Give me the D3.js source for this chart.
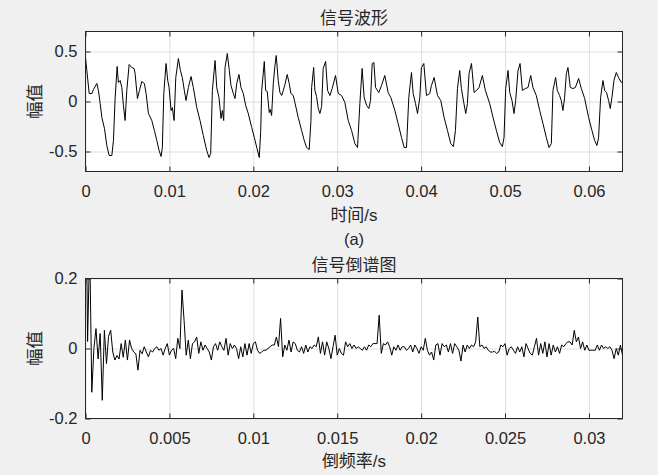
<!DOCTYPE html>
<html>
<head>
<meta charset="utf-8">
<script src="https://cdn.jsdelivr.net/npm/d3@7"></script>
<style>
  html, body { margin: 0; padding: 0; background: #f0f0f0; }
  svg { display: block; }
  text { fill: #262626; font-family: "Liberation Sans", Arial, "Noto Sans CJK SC", sans-serif; }
</style>
</head>
<body>
<svg id="chart" width="658" height="475"></svg>
<script>
// ---------------- Data ----------------
// (a) signal waveform: time (s) and amplitude
const waveTime = [
  0, 0.00016, 0.00044, 0.00076, 0.00095, 0.00135, 0.00154, 0.00175, 0.00195, 0.00226,
  0.00254, 0.00282, 0.00314, 0.00333, 0.00353, 0.00377, 0.00392, 0.00413, 0.00433, 0.00452,
  0.00472, 0.00492, 0.0052, 0.00552, 0.00579, 0.00591, 0.00619, 0.00643, 0.00671, 0.00702,
  0.00722, 0.0075, 0.0079, 0.00821, 0.0085, 0.00877, 0.00901, 0.00916, 0.00933, 0.0096,
  0.0098, 0.00996, 0.0102, 0.01035, 0.01056, 0.01076, 0.01107, 0.01131, 0.01154, 0.01178,
  0.01198, 0.01226, 0.01258, 0.01285, 0.01326, 0.01365, 0.01404, 0.01445, 0.01472, 0.01492,
  0.01512, 0.01544, 0.01564, 0.01591, 0.01615, 0.01631, 0.01647, 0.01663, 0.0169, 0.01714,
  0.01734, 0.01762, 0.01782, 0.01802, 0.01829, 0.01853, 0.01881, 0.01909, 0.0194, 0.01981,
  0.02012, 0.02044, 0.02071, 0.02088, 0.021, 0.02131, 0.02147, 0.02166, 0.0219, 0.02202,
  0.02218, 0.02238, 0.02258, 0.02273, 0.02297, 0.02317, 0.02338, 0.02357, 0.02377, 0.02404,
  0.02428, 0.02448, 0.02476, 0.02496, 0.02535, 0.02576, 0.02607, 0.02635, 0.02666, 0.02687,
  0.02695, 0.02719, 0.02734, 0.02754, 0.02774, 0.02794, 0.02814, 0.02833, 0.02862, 0.02885,
  0.02913, 0.0294, 0.0298, 0.03012, 0.03052, 0.03091, 0.03131, 0.03171, 0.0321, 0.03242,
  0.0327, 0.03297, 0.03321, 0.0335, 0.03377, 0.03397, 0.03417, 0.03437, 0.03457, 0.03496,
  0.03528, 0.03567, 0.03607, 0.03639, 0.03687, 0.03726, 0.03766, 0.03798, 0.03826, 0.03853,
  0.03885, 0.03905, 0.03933, 0.03957, 0.03984, 0.04004, 0.04032, 0.04064, 0.04103, 0.04123,
  0.04155, 0.04195, 0.04234, 0.04274, 0.04314, 0.04353, 0.04385, 0.04409, 0.04433, 0.0446,
  0.0448, 0.04508, 0.04532, 0.04552, 0.04571, 0.046, 0.04631, 0.04659, 0.0469, 0.0473,
  0.04766, 0.04817, 0.04857, 0.04897, 0.04936, 0.04968, 0.04988, 0.05008, 0.05036, 0.05056,
  0.05083, 0.05107, 0.05127, 0.05155, 0.05179, 0.05207, 0.05242, 0.05274, 0.05306, 0.05333,
  0.05373, 0.05413, 0.05452, 0.05492, 0.05524, 0.05552, 0.05571, 0.05603, 0.05623, 0.0565,
  0.0567, 0.0569, 0.0571, 0.05731, 0.0575, 0.05778, 0.05809, 0.05838, 0.05877, 0.05909,
  0.05949, 0.05996, 0.06036, 0.06068, 0.06095, 0.06115, 0.06139, 0.06167, 0.06187, 0.0621,
  0.06234, 0.06254, 0.06274, 0.06298, 0.06326, 0.06353, 0.06385, 0.064
];
const waveAmp = [
  0.44, 0.31, 0.08, 0.08, 0.12, 0.18, 0.11, -0.02, -0.16, -0.27,
  -0.44, -0.54, -0.54, -0.39, 0.03, 0.35, 0.19, 0.21, 0.14, -0.04,
  -0.19, 0.11, 0.37, 0.34, 0.33, 0.28, 0.03, 0.11, 0.2, 0.18,
  0.08, -0.12, -0.19, -0.29, -0.39, -0.49, -0.55, -0.46, 0.08, 0.38,
  0.21, 0.14, -0.09, -0.06, -0.19, 0.24, 0.43, 0.31, 0.24, 0.11,
  0.01, 0.14, 0.25, 0.14, -0.06, -0.19, -0.34, -0.49, -0.56, -0.52,
  0.11, 0.41, 0.14, 0.04, -0.17, -0.09, -0.19, 0.34, 0.48, 0.31,
  0.16, 0.08, 0.03, 0.18, 0.27, 0.14, 0.08, -0.04, -0.12, -0.26,
  -0.36, -0.47, -0.56, -0.3, 0.11, 0.4, 0.11, 0.1, -0.11, -0.08,
  -0.14, 0.18, 0.36, 0.46, 0.21, 0.09, 0.06, 0.11, 0.17, 0.27,
  0.18, 0.08, 0.06, -0.01, -0.16, -0.29, -0.39, -0.46, -0.48, -0.19,
  0.14, 0.34, 0.11, 0.05, -0.07, -0.12, -0.05, 0.33, 0.4, 0.11,
  0.06, 0.13, 0.26, 0.08, 0.06, -0.01, -0.19, -0.29, -0.42, -0.46,
  -0.02, 0.33, 0.04, -0.04, -0.07, 0.01, 0.38, 0.39, 0.14, 0.09,
  0.16, 0.26, 0.09, 0.04, -0.09, -0.22, -0.36, -0.46, -0.46, 0.04,
  0.29, 0.08, -0.02, -0.12, 0.04, 0.34, 0.38, 0.06, 0.08, 0.16,
  0.24, 0.06, 0.01, -0.16, -0.29, -0.42, -0.45, -0.29, 0.13, 0.31,
  0.13, -0.01, -0.12, -0.02, 0.28, 0.38, 0.09, 0.11, 0.14, 0.26,
  0.11, -0.02, -0.16, -0.29, -0.41, -0.45, -0.36, 0.13, 0.31, 0.09,
  0.01, -0.12, 0.01, 0.31, 0.38, 0.11, 0.13, 0.14, 0.26, 0.14,
  0.06, -0.09, -0.22, -0.36, -0.46, -0.42, 0.11, 0.24, 0.11, 0.06,
  0.01, -0.09, 0.04, 0.28, 0.34, 0.14, 0.13, 0.14, 0.23, 0.13,
  0.03, -0.16, -0.29, -0.39, -0.44, -0.36, 0.04, 0.21, 0.11, 0.09,
  0.01, -0.07, 0.04, 0.21, 0.29, 0.24, 0.19, 0.2
];

// Cepstrum: values sampled every cepStep seconds of quefrency starting at 0
const cepStep = 0.000125;
const cepValues = [
  0.62, 0.02, 0.30, -0.125, 0.0, 0.057, -0.03, 0.043, -0.148, 0.052,
  -0.043, 0.035, 0.052, -0.01, -0.033, -0.02, -0.03, 0.014, -0.025, 0.024,
  -0.033, 0.024, 0.0, -0.01, -0.015, -0.062, -0.005, -0.015, 0.005, -0.01,
  -0.024, -0.005, -0.01, 0.0, 0.005, -0.005, 0.0, -0.019, 0.0, 0.014,
  -0.019, -0.005, 0.0, -0.029, 0.029, 0.0, 0.167, 0.08, -0.019, 0.024,
  -0.029, 0.014, 0.019, 0.033, -0.014, 0.019, -0.005, 0.01, 0.0, -0.01,
  -0.033, 0.005, 0.014, -0.005, 0.019, 0.005, -0.005, 0.029, -0.019, 0.014,
  0.0, 0.01, 0.0, -0.029, 0.005, -0.024, 0.014, -0.019, 0.014, -0.014,
  0.014, 0.019, -0.005, -0.014, -0.01, -0.005, -0.005, 0.0, 0.005, 0.01,
  0.01, 0.033, 0.005, 0.086, -0.024, 0.01, -0.005, 0.024, -0.01, 0.019,
  0.014, -0.005, -0.01, 0.005, -0.014, 0.01, -0.01, 0.005, 0.0, 0.01,
  0.005, 0.033, -0.014, 0.019, -0.019, 0.019, 0.0, -0.029, 0.005, 0.038,
  -0.019, 0.0, -0.014, -0.019, 0.019, 0.005, 0.014, 0.0, 0.01, 0.0,
  0.005, 0.0, -0.005, 0.005, -0.005, 0.01, 0.005, 0.014, 0.014, 0.014,
  0.095, -0.014, 0.014, 0.01, 0.019, 0.005, -0.019, 0.005, -0.005, 0.01,
  -0.005, 0.005, 0.005, -0.005, 0.0, 0.01, -0.01, 0.01, 0.0, -0.014,
  0.005, -0.005, 0.029, -0.005, -0.019, -0.01, -0.033, 0.01, 0.014, -0.019,
  0.014, 0.005, 0.01, -0.01, 0.014, -0.014, 0.014, 0.005, -0.005, -0.036,
  0.01, -0.01, 0.01, 0.0, 0.01, 0.005, 0.019, 0.09, 0.005, 0.01,
  0.0, 0.005, -0.005, -0.01, -0.01, -0.008, -0.014, -0.01, 0.01, 0.005,
  0.014, -0.019, 0.0, 0.005, -0.005, -0.014, 0.005, -0.01, 0.005, -0.024,
  0.014, 0.0, -0.014, -0.019, 0.005, 0.029, -0.019, 0.014, -0.014, 0.019,
  -0.024, 0.014, -0.019, 0.01, -0.01, 0.005, -0.014, 0.01, 0.005, 0.014,
  0.019, 0.019, 0.01, 0.052, 0.019, 0.033, 0.0, 0.019, -0.005, 0.01,
  -0.005, -0.005, -0.005, -0.005, 0.01, -0.005, 0.01, 0.0, 0.005, 0.0,
  0.005, -0.005, -0.029, 0.0, -0.019, 0.01, -0.019
];

// Ticks and labels
const waveXTicks = [0, 0.01, 0.02, 0.03, 0.04, 0.05, 0.06];
const waveXTickLabels = ["0", "0.01", "0.02", "0.03", "0.04", "0.05", "0.06"];
const waveYTicks = [-0.5, 0, 0.5];
const waveYTickLabels = ["-0.5", "0", "0.5"];
const cepXTicks = [0, 0.005, 0.01, 0.015, 0.02, 0.025, 0.03];
const cepXTickLabels = ["0", "0.005", "0.01", "0.015", "0.02", "0.025", "0.03"];
const cepYTicks = [-0.2, 0, 0.2];
const cepYTickLabels = ["-0.2", "0", "0.2"];

const titles = ["信号波形", "信号倒谱图"];
const xLabels = ["时间/s", "倒频率/s"];
const yLabel = "幅值";
const subCaption = "(a)";

// ---------------- Drawing ----------------
const svg = d3.select("#chart");
const L = 85.5, R = 622.5;
const panels = [
  {
    top: 31.5, bottom: 171.5, xDomain: [0, 0.064], yDomain: [-0.7, 0.7],
    xs: waveTime, ys: waveAmp,
    xTicks: waveXTicks, xLabels: waveXTickLabels, yTicks: waveYTicks, yLabels: waveYTickLabels,
    title: titles[0], titleY: 24, xLabel: xLabels[0], xLabelY: 221
  },
  {
    top: 278.5, bottom: 418.5, xDomain: [0, 0.032], yDomain: [-0.2, 0.2],
    xs: cepValues.map((v, i) => i * cepStep), ys: cepValues,
    xTicks: cepXTicks, xLabels: cepXTickLabels, yTicks: cepYTicks, yLabels: cepYTickLabels,
    title: titles[1], titleY: 271, xLabel: xLabels[1], xLabelY: 467
  }
];

const axisColor = "#262626";
const gridColor = "#dfdfdf";

panels.forEach((p, k) => {
  const x = d3.scaleLinear().domain(p.xDomain).range([L, R]);
  const y = d3.scaleLinear().domain(p.yDomain).range([p.bottom, p.top]);
  const h = p.bottom - p.top, w = R - L;

  const g = svg.append("g");
  g.append("rect").attr("x", L).attr("y", p.top).attr("width", w).attr("height", h).attr("fill", "#fff");

  // grid
  const gx = g.append("g").attr("transform", `translate(0,${p.bottom})`)
    .call(d3.axisBottom(x).tickValues(p.xTicks).tickSize(-h).tickFormat(""));
  gx.select(".domain").remove();
  gx.selectAll("line").attr("stroke", gridColor).attr("stroke-width", 1);
  const gy = g.append("g").attr("transform", `translate(${L},0)`)
    .call(d3.axisLeft(y).tickValues(p.yTicks).tickSize(-w).tickFormat(""));
  gy.select(".domain").remove();
  gy.selectAll("line").attr("stroke", gridColor).attr("stroke-width", 1);

  // clip
  const clipId = "clip" + k;
  svg.append("clipPath").attr("id", clipId).append("rect")
    .attr("x", L).attr("y", p.top).attr("width", w).attr("height", h);

  const pts = p.xs.map((t, i) => [t, p.ys[i]]);
  const line = d3.line().x(d => x(d[0])).y(d => y(d[1]));
  g.append("path").datum(pts).attr("d", line)
    .attr("fill", "none").attr("stroke", "#000").attr("stroke-width", 1)
    .attr("stroke-linejoin", "round")
    .attr("clip-path", `url(#${clipId})`);

  // axes (ticks inside)
  const fmtX = (d, i) => p.xLabels[i];
  const fmtY = (d, i) => p.yLabels[i];
  const ax = g.append("g").attr("transform", `translate(0,${p.bottom})`)
    .call(d3.axisBottom(x).tickValues(p.xTicks).tickSize(-5).tickPadding(14).tickFormat(fmtX));
  const axT = g.append("g").attr("transform", `translate(0,${p.top})`)
    .call(d3.axisTop(x).tickValues(p.xTicks).tickSize(-5).tickFormat(""));
  const ay = g.append("g").attr("transform", `translate(${L},0)`)
    .call(d3.axisLeft(y).tickValues(p.yTicks).tickSize(-5).tickPadding(8).tickFormat(fmtY));
  const ayR = g.append("g").attr("transform", `translate(${R},0)`)
    .call(d3.axisRight(y).tickValues(p.yTicks).tickSize(-5).tickFormat(""));
  [ax, axT, ay, ayR].forEach(a => {
    a.select(".domain").remove();
    a.selectAll("line").attr("stroke", axisColor);
    a.selectAll("text").attr("fill", axisColor).style("font-size", "16.5px")
      .style("font-family", "'Liberation Sans', Arial, sans-serif");
  });

  g.append("rect").attr("x", L).attr("y", p.top).attr("width", w).attr("height", h)
    .attr("fill", "none").attr("stroke", axisColor).attr("stroke-width", 1);

  // title & labels
  const cx = (L + R) / 2;
  g.append("text").attr("x", cx).attr("y", p.titleY).attr("text-anchor", "middle")
    .style("font-size", "17px").text(p.title);
  g.append("text").attr("x", cx).attr("y", p.xLabelY).attr("text-anchor", "middle")
    .style("font-size", "17px").text(p.xLabel);
  g.append("text")
    .attr("transform", `translate(41,${(p.top + p.bottom) / 2}) rotate(-90)`)
    .attr("text-anchor", "middle").style("font-size", "17.5px").text(yLabel);
});

svg.append("text").attr("x", (L + R) / 2).attr("y", 245).attr("text-anchor", "middle")
  .style("font-size", "16.5px").text(subCaption);
</script>
</body>
</html>
